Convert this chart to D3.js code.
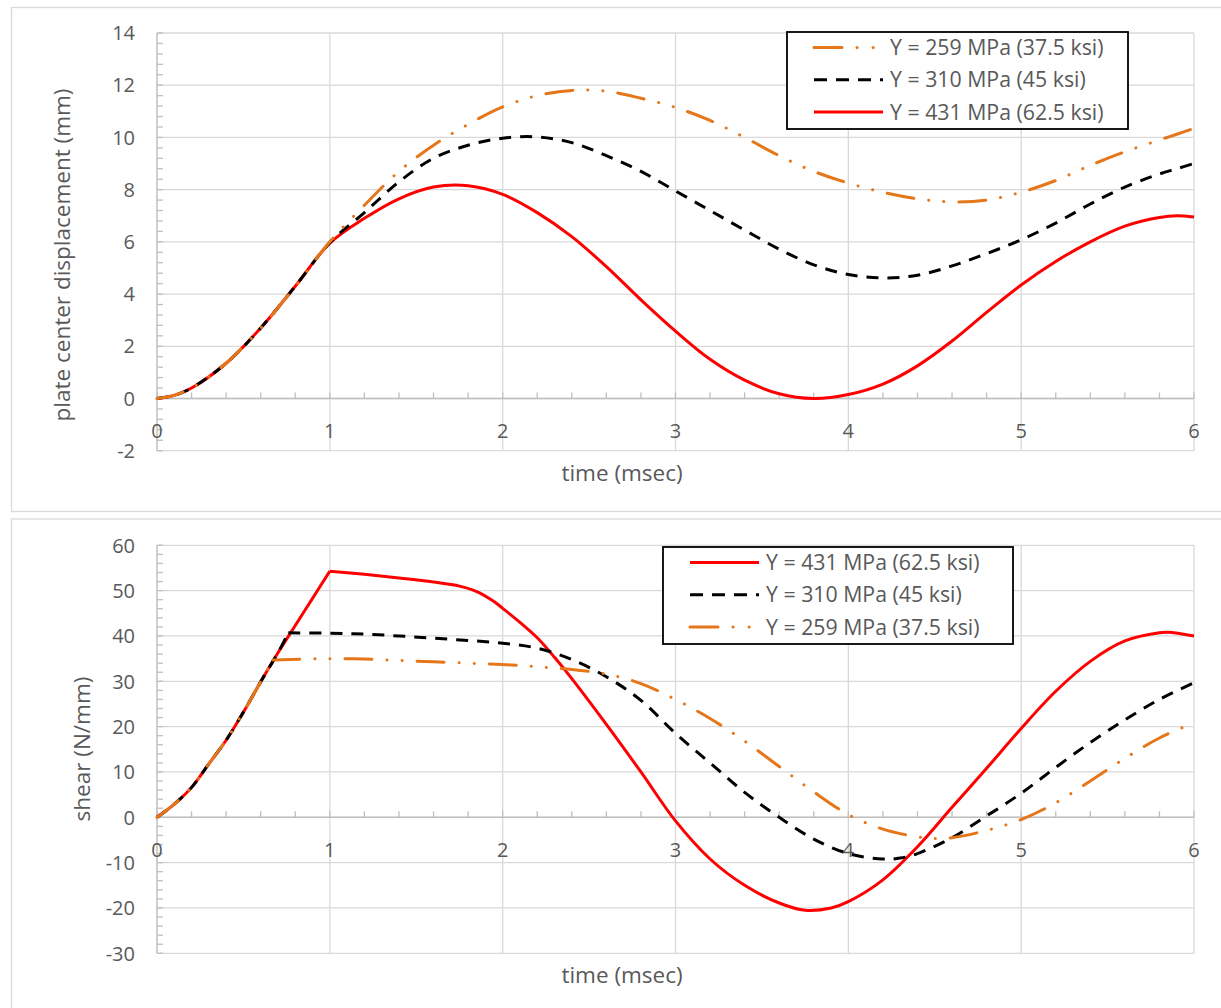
<!DOCTYPE html>
<html>
<head>
<meta charset="utf-8">
<script src="https://cdn.jsdelivr.net/npm/d3@7"></script>
<style>
  body { margin: 0; background: #fff; }
  text { font-family: 'Open Sans', sans-serif; fill: #595959; }
</style>
</head>
<body>
<script>
// plate center displacement vs time
let dispTime = [0, 0.1, 0.2, 0.4, 0.6, 0.8, 1.0, 1.2, 1.4, 1.6, 1.8, 2.0, 2.2, 2.4, 2.6, 2.8, 3.0,
  3.2, 3.4, 3.6, 3.8, 4.0, 4.2, 4.4, 4.6, 4.8, 5.0, 5.2, 5.4, 5.6, 5.8, 5.9, 6.0]
let disp431 = [0, 0.12, 0.4, 1.35, 2.7, 4.3, 5.95, 6.9, 7.65, 8.1, 8.15, 7.82, 7.12, 6.2, 5.05, 3.78, 2.58,
  1.5, 0.7, 0.18, 0.0, 0.15, 0.55, 1.25, 2.2, 3.3, 4.35, 5.25, 6.0, 6.6, 6.93, 7.0, 6.95]
let disp310 = [0, 0.12, 0.4, 1.35, 2.7, 4.3, 5.97, 7.12, 8.3, 9.2, 9.7, 9.97, 10.02, 9.8, 9.3, 8.7, 7.95,
  7.2, 6.45, 5.72, 5.12, 4.75, 4.62, 4.72, 5.08, 5.55, 6.08, 6.72, 7.45, 8.1, 8.6, 8.8, 9.0]
let disp259 = [0, 0.12, 0.4, 1.35, 2.7, 4.3, 6.0, 7.4, 8.7, 9.7, 10.5, 11.17, 11.6, 11.8, 11.77, 11.5, 11.15,
  10.65, 10.0, 9.3, 8.7, 8.25, 7.9, 7.65, 7.53, 7.6, 7.9, 8.35, 8.93, 9.45, 9.9, 10.12, 10.35]

// shear vs time
let shearTime431 = [0, 0.1, 0.2, 0.3, 0.4, 0.5, 0.6, 0.7, 0.8, 0.9, 1.0, 1.2, 1.4, 1.6, 1.75, 1.85, 1.95, 2.0,
  2.1, 2.2, 2.3, 2.4, 2.6, 2.8, 3.0, 3.2, 3.4, 3.6, 3.75, 3.9, 4.0, 4.2, 4.4, 4.6,
  4.8, 5.0, 5.2, 5.4, 5.6, 5.8, 5.85, 6.0]
let shear431 = [0, 2.9, 6.6, 11.8, 17.0, 23.2, 29.9, 36.3, 42.3, 48.3, 54.3, 53.6, 52.8, 51.9, 51.0, 49.8, 47.6, 46.1,
  43.0, 39.6, 35.3, 30.6, 20.5, 10.0, -0.8, -9.2, -15.0, -18.9, -20.5, -20.0, -18.6, -13.8, -6.5, 2.2,
  10.8, 19.6, 27.8, 34.4, 38.9, 40.7, 40.8, 40.0]
let shearTime310 = [0, 0.1, 0.2, 0.3, 0.4, 0.5, 0.6, 0.7, 0.76, 1.0, 1.2, 1.4, 1.6, 1.8, 2.0, 2.2, 2.4,
  2.6, 2.8, 3.0, 3.2, 3.4, 3.6, 3.8, 4.0, 4.2, 4.3, 4.4, 4.6, 4.8, 5.0, 5.2, 5.4, 5.6, 5.8, 6.0]
let shear310 = [0, 2.9, 6.6, 11.8, 17.0, 23.2, 29.9, 36.3, 40.7, 40.6, 40.4, 40.0, 39.5, 39.0, 38.4, 37.3, 34.8,
  31.0, 25.8, 18.5, 12.0, 5.5, 0.0, -4.8, -8.0, -9.2, -9.0, -8.0, -4.5, 0.3, 5.3, 11.0, 16.5, 21.5, 26.0, 29.7]
let shearTime259 = [0, 0.1, 0.2, 0.3, 0.4, 0.5, 0.6, 0.67, 1.0, 1.2, 1.4, 1.6, 1.8, 2.0, 2.2, 2.4, 2.6,
  2.8, 3.0, 3.2, 3.4, 3.6, 3.8, 4.0, 4.2, 4.4, 4.5, 4.6, 4.8, 5.0, 5.2, 5.4, 5.6, 5.8, 6.0]
let shear259 = [0, 2.9, 6.6, 11.8, 17.0, 23.2, 29.9, 34.7, 35.0, 34.9, 34.6, 34.3, 34.0, 33.7, 33.2, 32.6, 31.6,
  29.5, 26.0, 21.8, 16.8, 11.2, 5.6, 0.6, -2.6, -4.3, -4.7, -4.5, -2.9, -0.5, 3.2, 8.0, 13.0, 17.5, 20.8]
// times where the shear curves break sharply (yield)
let shearKinks = [1.0, 0.76, 0.67]

let xTicks = [0, 1, 2, 3, 4, 5, 6]
let dispTicks = [-2, 0, 2, 4, 6, 8, 10, 12, 14]
let shearTicks = [-30, -20, -10, 0, 10, 20, 30, 40, 50, 60]
let seriesNames = ['Y = 431 MPa (62.5 ksi)', 'Y = 310 MPa (45 ksi)', 'Y = 259 MPa (37.5 ksi)']

let W = 1221
let H = 1008
let styles = [
  { color: '#ff0000', dash: null, cap: 'butt' },
  { color: '#000000', dash: '12,9', cap: 'butt' },
  { color: '#e5761a', dash: '27,15,0.1,15,0.1,15', cap: 'round' }
]

let svg = d3.select('body').append('svg')
  .attr('width', W)
  .attr('height', H)

function drawChart (cfg) {
  let g = svg.append('g')
  // chart frame
  g.append('rect')
    .attr('x', 11.5).attr('y', cfg.frameTop)
    .attr('width', 1240).attr('height', cfg.frameH)
    .attr('fill', 'none').attr('stroke', '#d9d9d9').attr('stroke-width', 1.3)

  let x = d3.scaleLinear().domain([0, 6]).range([157, 1194])
  let y = d3.scaleLinear().domain(cfg.yDomain).range(cfg.yRange)

  // grid
  g.selectAll('.hg').data(cfg.yTicks).enter().append('line')
    .attr('x1', x(0)).attr('x2', x(6))
    .attr('y1', d => y(d)).attr('y2', d => y(d))
    .attr('stroke', '#d9d9d9').attr('stroke-width', 1.3)
  g.selectAll('.vg').data(xTicks.slice(1)).enter().append('line')
    .attr('x1', d => x(d)).attr('x2', d => x(d))
    .attr('y1', y(cfg.yDomain[0])).attr('y2', y(cfg.yDomain[1]))
    .attr('stroke', '#d9d9d9').attr('stroke-width', 1.3)

  // minor ticks
  let yMinor = d3.range(cfg.yDomain[0], cfg.yDomain[1] + 1e-9, cfg.yMinor)
  g.selectAll('.ym').data(yMinor).enter().append('line')
    .attr('x1', x(0)).attr('x2', x(0) + 6)
    .attr('y1', d => y(d)).attr('y2', d => y(d))
    .attr('stroke', '#bfbfbf').attr('stroke-width', 1.3)
  g.selectAll('.xm').data(d3.range(0, 6.0001, 0.2)).enter().append('line')
    .attr('x1', d => x(d)).attr('x2', d => x(d))
    .attr('y1', y(0)).attr('y2', y(0) - 6)
    .attr('stroke', '#bfbfbf').attr('stroke-width', 1.3)

  // axis lines
  g.append('line').attr('x1', x(0)).attr('x2', x(6)).attr('y1', y(0)).attr('y2', y(0))
    .attr('stroke', '#bfbfbf').attr('stroke-width', 1.5)
  g.append('line').attr('x1', x(0)).attr('x2', x(0))
    .attr('y1', y(cfg.yDomain[0])).attr('y2', y(cfg.yDomain[1]))
    .attr('stroke', '#bfbfbf').attr('stroke-width', 1.5)

  // tick labels
  g.selectAll('.yl').data(cfg.yTicks).enter().append('text')
    .attr('x', 135).attr('y', d => y(d)).attr('dy', '0.36em')
    .attr('text-anchor', 'end').attr('font-size', '20px')
    .text(d => d)
  g.selectAll('.xl').data(xTicks).enter().append('text')
    .attr('x', d => x(d)).attr('y', y(0) + 39.5)
    .attr('text-anchor', 'middle').attr('font-size', '20px')
    .text(d => d)

  // series, split at sharp corners so the spline keeps them
  let line = d3.line()
    .x(d => x(d[0])).y(d => y(d[1]))
    .curve(d3.curveCatmullRom.alpha(0.5))
  cfg.series.forEach(function (s, i) {
    let pts = d3.zip(s.t, s.v)
    let segs = [pts]
    if (s.kink != null) {
      let k = s.t.indexOf(s.kink)
      segs = [pts.slice(0, k + 1), pts.slice(k)]
    }
    g.append('path')
      .attr('d', segs.map(line).join(''))
      .attr('fill', 'none')
      .attr('stroke', styles[i].color)
      .attr('stroke-width', 3)
      .attr('stroke-linejoin', 'round')
      .attr('stroke-dasharray', styles[i].dash)
      .attr('stroke-linecap', styles[i].cap)
  })

  // titles
  g.append('text')
    .attr('x', cfg.xTitlePos[0]).attr('y', cfg.xTitlePos[1])
    .attr('text-anchor', 'middle').attr('dy', '0.36em').attr('font-size', '22.5px')
    .text('time (msec)')
  g.append('text')
    .attr('transform', 'translate(' + cfg.yTitlePos + ') rotate(-90)')
    .attr('text-anchor', 'middle').attr('dy', '0.36em').attr('font-size', '22.5px')
    .text(cfg.yTitle)

  // legend
  let L = cfg.legend
  g.append('rect')
    .attr('x', L.x).attr('y', L.y).attr('width', L.w).attr('height', L.h)
    .attr('fill', '#fff').attr('stroke', '#000').attr('stroke-width', 1.8)
  L.order.forEach(function (si, k) {
    let cy = L.y + 15.5 + k * 32.3
    g.append('line')
      .attr('x1', L.x + 27).attr('x2', L.x + 96)
      .attr('y1', cy).attr('y2', cy)
      .attr('stroke', styles[si].color).attr('stroke-width', 3)
      .attr('stroke-dasharray', si === 1 ? '13,9' : si === 2 ? '28,15,0.1,16,0.1,12' : null)
      .attr('stroke-linecap', styles[si].cap)
    g.append('text')
      .attr('x', L.x + 103).attr('y', cy).attr('dy', '0.36em')
      .attr('font-size', '21.3px')
      .text(seriesNames[si])
  })
}

drawChart({
  frameTop: 7.5, frameH: 504,
  yDomain: [-2, 14], yRange: [450.7, 33], yTicks: dispTicks, yMinor: 0.4,
  series: [
    { t: dispTime, v: disp431 },
    { t: dispTime, v: disp310 },
    { t: dispTime, v: disp259 }
  ],
  xTitlePos: [622, 473],
  yTitlePos: [62, 255],
  yTitle: 'plate center displacement (mm)',
  legend: { x: 787, y: 32, w: 341, h: 97, order: [2, 1, 0] }
})

drawChart({
  frameTop: 519, frameH: 560,
  yDomain: [-30, 60], yRange: [953.3, 545.3], yTicks: shearTicks, yMinor: 2,
  series: [
    { t: shearTime431, v: shear431, kink: shearKinks[0] },
    { t: shearTime310, v: shear310, kink: shearKinks[1] },
    { t: shearTime259, v: shear259, kink: shearKinks[2] }
  ],
  xTitlePos: [622, 975],
  yTitlePos: [82, 749],
  yTitle: 'shear (N/mm)',
  legend: { x: 663, y: 547, w: 350, h: 97, order: [0, 1, 2] }
})
</script>
</body>
</html>
